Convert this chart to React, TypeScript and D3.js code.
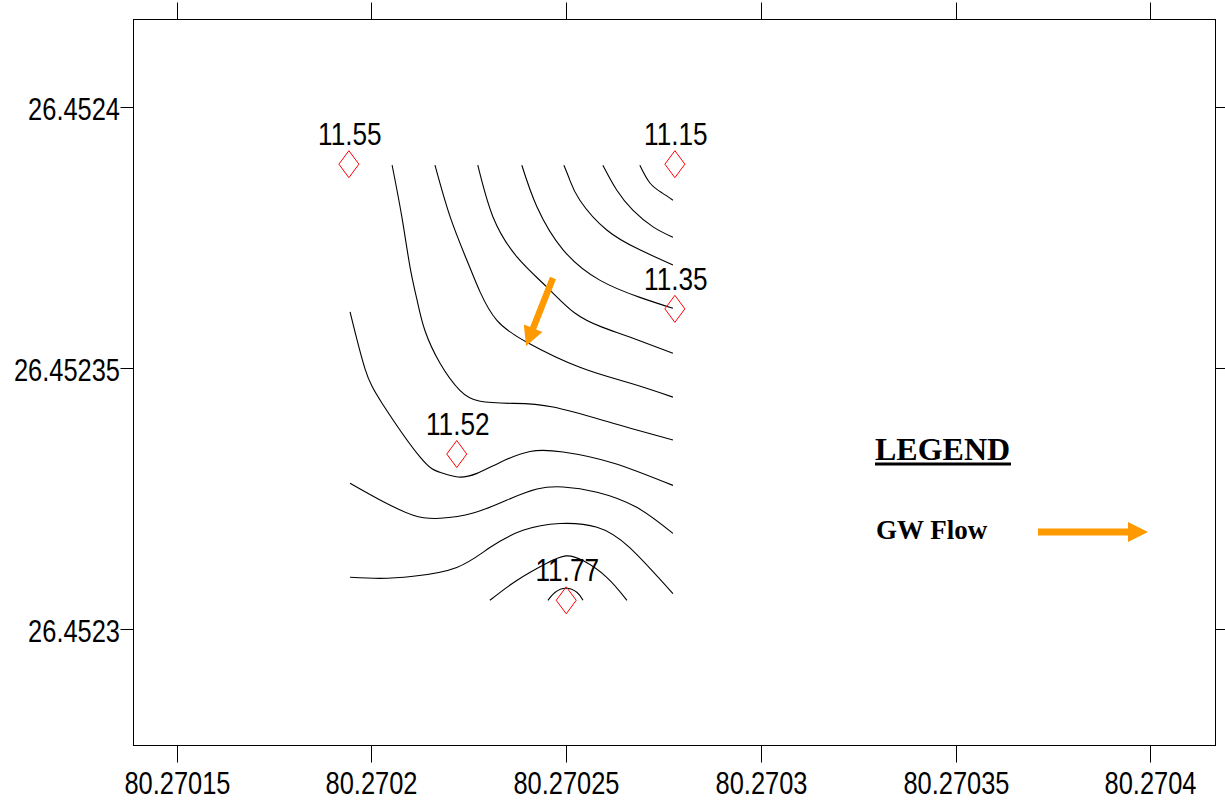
import React from 'react';
import * as d3 from 'd3';

const W = 1225;
const H = 809;

// Axis ticks
const lonTicks = [80.27015, 80.2702, 80.27025, 80.2703, 80.27035, 80.2704];
const lonTickLabels = ['80.27015', '80.2702', '80.27025', '80.2703', '80.27035', '80.2704'];
const latTicks = [26.4523, 26.45235, 26.4524];
const latTickLabels = ['26.4523', '26.45235', '26.4524'];

// Map extent (longitude / latitude)
const lonExtent: [number, number] = [80.2701389, 80.2704167];
const latExtent: [number, number] = [26.4522777, 26.4524167];

// Observation wells: water level readings
const stationLevels = ['11.55', '11.15', '11.35', '11.52', '11.77'];
const stationLon = [80.2701942, 80.2702779, 80.2702779, 80.2702219, 80.27025];
const stationLat = [26.452389, 26.452389, 26.4523613, 26.4523335, 26.4523055];

// Contour vertices, in micro-degrees east / north of the origin below
const LON0 = 80.2701;
const LAT0 = 26.4523;
const MICRO = 1e-6;

const contour1 = [[168.9, 88.8], [171.5, 85.4], [174.6, 83.5], [177.4, 82.1]];
const contour2 = [[159.4, 88.8], [163.0, 84.0], [167.1, 80.2], [172.3, 77.0], [177.4, 75.0]];
const contour3 = [[149.4, 88.8], [150.9, 86.0], [153.5, 82.1], [160.4, 76.4], [168.9, 72.6], [177.4, 69.7]];
const contour4 = [[138.6, 88.8], [142.5, 80.8], [149.2, 72.6], [158.6, 66.8], [168.9, 63.5], [177.4, 61.4]];
const contour5 = [[127.3, 88.8], [131.2, 78.9], [137.4, 71.2], [145.0, 65.5], [152.2, 60.5], [159.2, 57.8], [166.3, 55.9], [177.4, 52.8]];
const contour6 = [[116.3, 88.8], [120.2, 78.9], [124.5, 70.6], [127.9, 64.5], [132.2, 59.1], [139.9, 54.9], [153.5, 50.1], [166.3, 47.1], [177.4, 44.4]];
const contour7 = [[105.3, 88.8], [107.8, 78.9], [109.9, 69.3], [111.7, 63.0], [113.7, 57.2], [117.6, 50.9], [122.7, 45.7], [127.9, 43.6], [136.3, 43.2], [146.6, 42.5], [162.0, 39.4], [177.4, 36.2]];
const contour8 = [[94.5, 60.7], [98.3, 49.9], [103.0, 42.9], [112.5, 32.9], [117.6, 30.0], [122.2, 29.1], [127.1, 29.8], [133.0, 31.9], [140.7, 34.0], [149.2, 33.9], [162.0, 31.8], [177.4, 27.5]];
const contour9 = [[94.5, 27.9], [102.2, 24.7], [110.7, 21.8], [117.6, 21.2], [126.1, 22.2], [134.8, 24.7], [142.5, 26.8], [149.2, 27.2], [157.9, 26.2], [168.1, 23.3], [177.4, 18.3]];
const contour10 = [[94.5, 9.9], [102.2, 9.7], [110.7, 10.1], [121.9, 11.8], [130.4, 15.6], [138.9, 18.9], [148.4, 20.2], [157.9, 19.5], [166.3, 15.6], [177.4, 6.8]];
const contour11 = [[130.4, 5.5], [137.3, 9.3], [145.0, 12.6], [149.9, 14.0], [154.3, 13.1], [160.4, 9.9], [165.6, 5.5]];
const contour12 = [[145.3, 5.5], [147.1, 7.0], [149.9, 7.8], [152.8, 7.0], [154.3, 5.5]];

const contours = [contour1, contour2, contour3, contour4, contour5, contour6, contour7, contour8, contour9, contour10, contour11, contour12];

// Groundwater flow direction (tail -> head)
const flowFrom = [80.2702466, 26.4523672];
const flowTo = [80.2702397, 26.4523542];

const ORANGE = '#ff9900';
const NARROW = "'Liberation Sans Narrow', 'Arial Narrow', 'Liberation Sans', Arial, sans-serif";
const SERIF = "'Liberation Serif', 'Times New Roman', serif";

// advance width of a numeric label in a narrow sans face
const numWidth = (s: string, fs: number) =>
  s.split('').reduce((w, c) => w + (c === '.' ? 0.228 : 0.456), 0) * fs;

function arrowShape(x0: number, y0: number, x1: number, y1: number, sw: number, hl: number, hw: number) {
  const dx = x1 - x0;
  const dy = y1 - y0;
  const len = Math.hypot(dx, dy);
  const ux = dx / len;
  const uy = dy / len;
  const nx = -uy;
  const ny = ux;
  const bx = x1 - ux * hl;
  const by = y1 - uy * hl;
  const p = d3.path();
  p.moveTo(x0 + (nx * sw) / 2, y0 + (ny * sw) / 2);
  p.lineTo(bx + (nx * sw) / 2, by + (ny * sw) / 2);
  p.lineTo(bx + (nx * hw) / 2, by + (ny * hw) / 2);
  p.lineTo(x1, y1);
  p.lineTo(bx - (nx * hw) / 2, by - (ny * hw) / 2);
  p.lineTo(bx - (nx * sw) / 2, by - (ny * sw) / 2);
  p.lineTo(x0 - (nx * sw) / 2, y0 - (ny * sw) / 2);
  p.closePath();
  return p.toString();
}

export default function App() {
  const left = 133.5;
  const right = 1215.5;
  const top = 19.5;
  const bottom = 745.5;

  const x = d3.scaleLinear().domain(lonExtent).range([left, right]);
  const y = d3.scaleLinear().domain(latExtent).range([bottom, top]);

  const line = d3
    .line<number[]>()
    .x((p) => x(LON0 + p[0] * MICRO))
    .y((p) => y(LAT0 + p[1] * MICRO))
    .curve(d3.curveNatural);

  const diamond = (cx: number, cy: number) => {
    const p = d3.path();
    p.moveTo(cx, cy - 13.5);
    p.lineTo(cx + 10, cy);
    p.lineTo(cx, cy + 13.5);
    p.lineTo(cx - 10, cy);
    p.closePath();
    return p.toString();
  };

  const fs = 31;

  return (
    <svg
      width={W}
      height={H}
      viewBox={`0 0 ${W} ${H}`}
      style={{ position: 'absolute', left: 0, top: 0, background: '#fff' }}
    >
      <rect x={0} y={0} width={W} height={H} fill="#fff" />

      {/* frame */}
      <rect x={left} y={top} width={right - left} height={bottom - top} fill="none" stroke="#000" strokeWidth={1} />

      {/* longitude ticks, bottom and top */}
      {lonTicks.map((v, i) => {
        const tx = Math.round(x(v)) + 0.5;
        return (
          <g key={`lon${i}`}>
            <line x1={tx} x2={tx} y1={bottom} y2={bottom + 17} stroke="#000" strokeWidth={1} />
            <line x1={tx} x2={tx} y1={top} y2={top - 17} stroke="#000" strokeWidth={1} />
            <text
              x={tx}
              y={bottom + 48}
              textAnchor="middle"
              fontFamily={NARROW}
              fontSize={fs}
              textLength={numWidth(lonTickLabels[i], fs)}
              lengthAdjust="spacingAndGlyphs"
              fill="#000"
            >
              {lonTickLabels[i]}
            </text>
          </g>
        );
      })}

      {/* latitude ticks, left and right */}
      {latTicks.map((v, i) => {
        const ty = Math.round(y(v)) + 0.5;
        return (
          <g key={`lat${i}`}>
            <line x1={left} x2={left - 13} y1={ty} y2={ty} stroke="#000" strokeWidth={1} />
            <line x1={right} x2={right + 13} y1={ty} y2={ty} stroke="#000" strokeWidth={1} />
            <text
              x={left - 13.5}
              y={ty + 12}
              textAnchor="end"
              fontFamily={NARROW}
              fontSize={fs}
              textLength={numWidth(latTickLabels[i], fs)}
              lengthAdjust="spacingAndGlyphs"
              fill="#000"
            >
              {latTickLabels[i]}
            </text>
          </g>
        );
      })}

      {/* water level contours */}
      {contours.map((c, i) => (
        <path key={`c${i}`} d={line(c) || ''} fill="none" stroke="#000" strokeWidth={1.1} />
      ))}

      {/* groundwater flow arrow */}
      <path
        d={arrowShape(x(flowFrom[0]), y(flowFrom[1]), x(flowTo[0]), y(flowTo[1]), 6.5, 19, 20)}
        fill={ORANGE}
      />

      {/* wells */}
      {stationLevels.map((lab, i) => {
        const cx = x(stationLon[i]);
        const cy = y(stationLat[i]);
        return (
          <g key={`s${i}`}>
            <path d={diamond(cx, cy)} fill="none" stroke="#ff0000" strokeWidth={1} />
            <text
              x={cx + 1}
              y={cy - 19}
              textAnchor="middle"
              fontFamily={NARROW}
              fontSize={fs}
              textLength={numWidth(lab, fs)}
              lengthAdjust="spacingAndGlyphs"
              fill="#000"
            >
              {lab}
            </text>
          </g>
        );
      })}

      {/* legend */}
      <g>
        <text x={875} y={460} fontFamily={SERIF} fontWeight="bold" fontSize={32} fill="#000">
          LEGEND
        </text>
        <rect x={875} y={462.5} width={136} height={3} fill="#000" />
        <text x={876} y={539} fontFamily={SERIF} fontWeight="bold" fontSize={27} fill="#000">
          GW Flow
        </text>
        <path d={arrowShape(1038, 532, 1148, 532, 7, 20, 20)} fill={ORANGE} />
      </g>
    </svg>
  );
}
